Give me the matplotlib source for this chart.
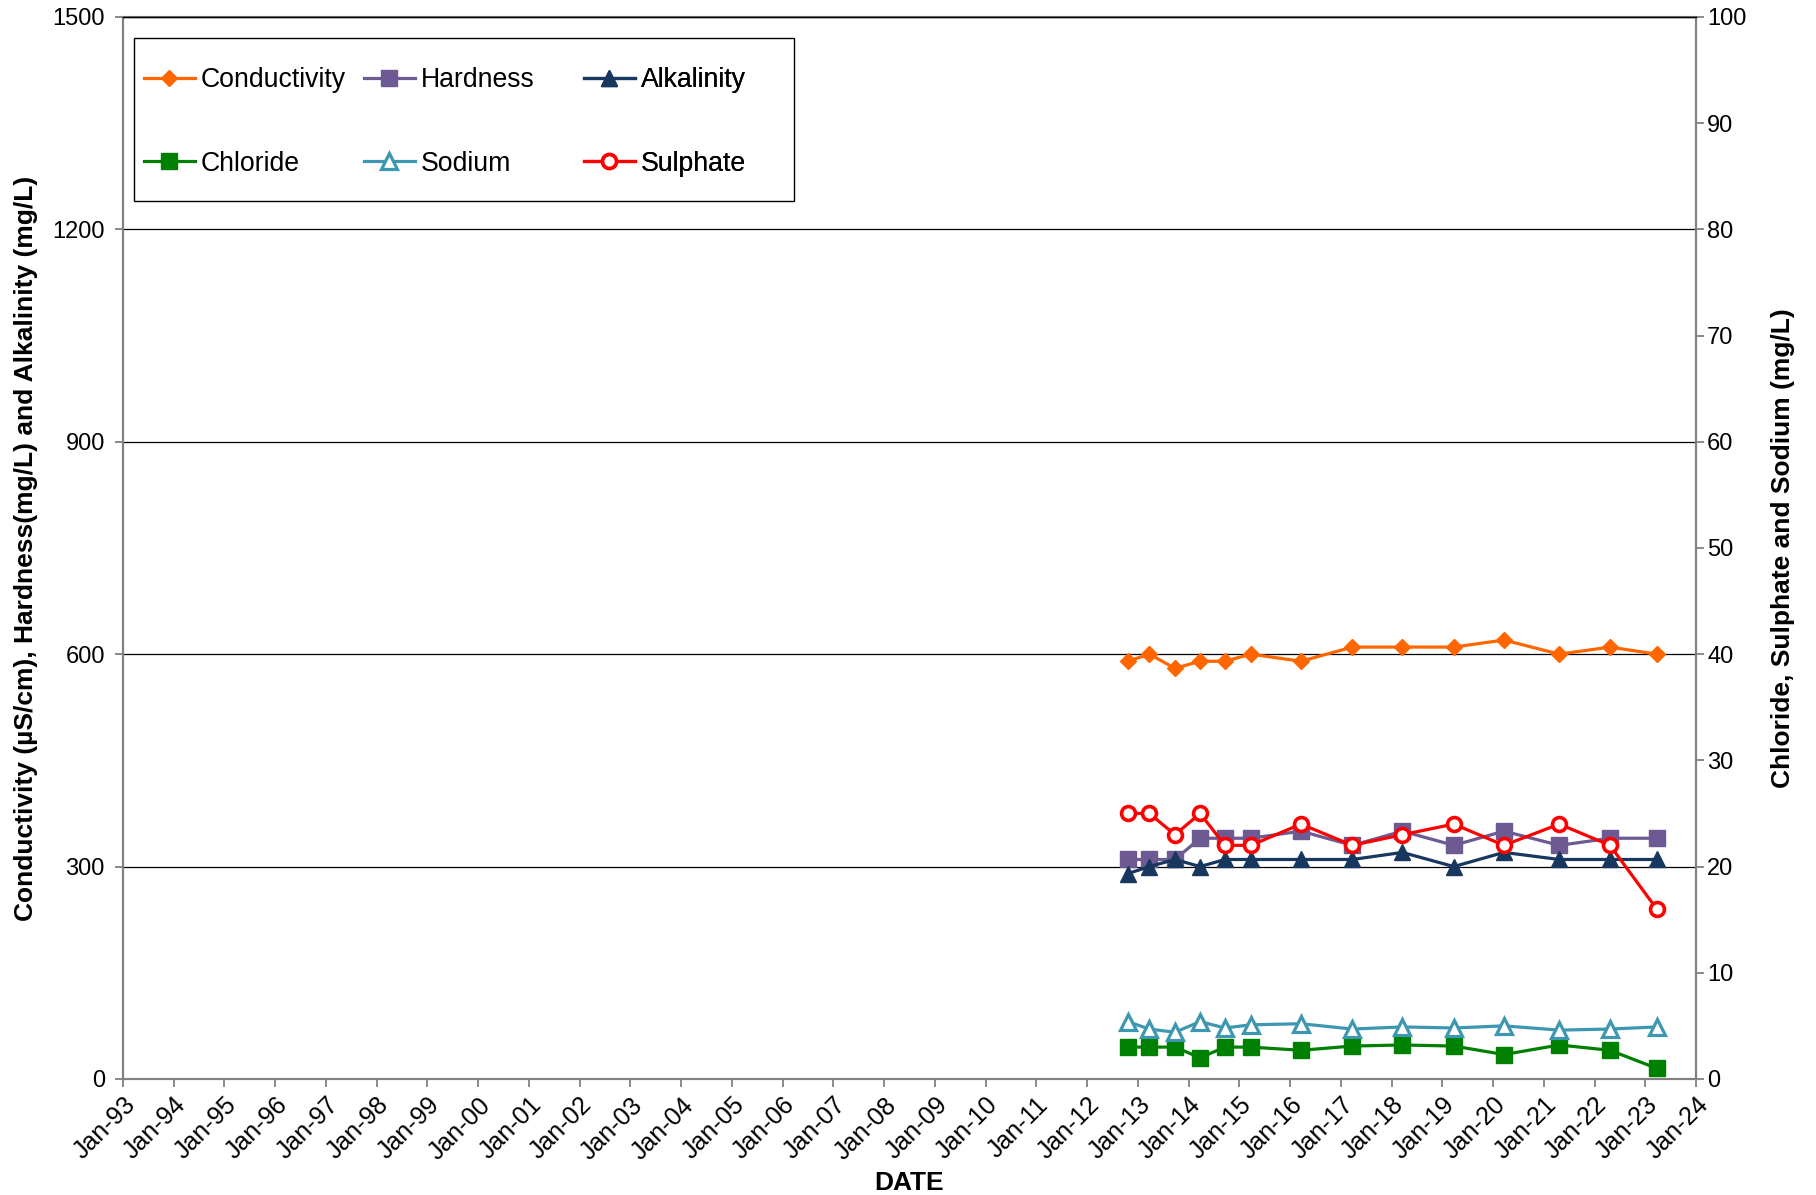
import pandas as pd
import matplotlib
matplotlib.use("Agg")
import matplotlib.pyplot as plt
import matplotlib.dates as mdates
from matplotlib.patches import Rectangle

plt.rcParams['font.family'] = ['Liberation Sans', 'DejaVu Sans']

# sampling dates
dates = ['2012-10-20', '2013-03-25', '2013-09-25', '2014-03-25', '2014-09-20', '2015-03-25',
         '2016-03-20', '2017-03-25', '2018-03-20', '2019-03-25', '2020-03-20', '2021-04-22',
         '2022-04-22', '2023-03-25']

# left axis
conductivity = [590, 600, 580, 590, 590, 600, 590, 610, 610, 610, 620, 600, 610, 600]
hardness = [310, 310, 310, 340, 340, 340, 350, 330, 350, 330, 350, 330, 340, 340]
alkalinity = [290, 300, 310, 300, 310, 310, 310, 310, 320, 300, 320, 310, 310, 310]

# right axis
chloride = [3.0, 3.0, 3.0, 2.0, 3.0, 3.0, 2.7, 3.1, 3.2, 3.1, 2.3, 3.2, 2.7, 1.0]
sodium = [5.4, 4.7, 4.4, 5.4, 4.8, 5.1, 5.2, 4.7, 4.9, 4.8, 5.0, 4.6, 4.7, 4.9]
sulphate = [25, 25, 23, 25, 22, 22, 24, 22, 23, 24, 22, 24, 22, 16]

x = pd.to_datetime(dates)

fig = plt.figure(figsize=(18.16, 11.95), dpi=100)
ax = fig.add_axes([0.0677, 0.0971, 0.8662, 0.8887])
ax2 = ax.twinx()

lw = 2.3
h_cond, = ax.plot(x, conductivity, color='#FF6600', marker='D', ms=8, lw=lw, label='Conductivity')
h_hard, = ax.plot(x, hardness, color='#6D5A93', marker='s', ms=11, lw=lw, label='Hardness')
h_alk, = ax.plot(x, alkalinity, color='#17375E', marker='^', ms=11.5, lw=lw, label='Alkalinity')

h_cl, = ax2.plot(x, chloride, color='#008000', marker='s', ms=11, lw=lw, label='Chloride')
h_na, = ax2.plot(x, sodium, color='#3E97B0', marker='^', ms=11.5, lw=lw, mfc='white',
                 mew=2.3, label='Sodium')
h_so4, = ax2.plot(x, sulphate, color='#FF0000', marker='o', ms=10, lw=lw, mfc='white',
                  mew=2.6, label='Sulphate')

ax.set_ylim(0, 1500)
ax.set_yticks(range(0, 1501, 300))
ax2.set_ylim(0, 100)
ax2.set_yticks(range(0, 101, 10))
ax.set_xlim(pd.Timestamp('1993-01-01'), pd.Timestamp('2024-01-01'))
ax.xaxis.set_major_locator(mdates.YearLocator(1))
ax.xaxis.set_major_formatter(mdates.DateFormatter('%b-%y'))

ax.yaxis.grid(True, color='black', lw=0.9)
ax.set_axisbelow(True)

for a in (ax, ax2):
    for s in a.spines.values():
        s.set_color('#808080')
        s.set_linewidth(1.5)
    a.tick_params(direction='out', length=6, width=1.3, color='#808080', labelsize=17)
ax.tick_params(axis='y', pad=7)
ax.tick_params(axis='x', labelsize=18, pad=4)
ax2.tick_params(axis='y', pad=2)
ax2.spines['top'].set_color('black')
ax2.spines['top'].set_linewidth(1.0)

for lbl in ax.get_xticklabels():
    lbl.set_rotation(45)
    lbl.set_ha('right')
    lbl.set_rotation_mode('anchor')

ax.set_ylabel('Conductivity (µS/cm), Hardness(mg/L) and Alkalinity (mg/L)', fontsize=19,
              fontweight='bold', labelpad=10)
ax2.set_ylabel('Chloride, Sulphate and Sodium (mg/L)', fontsize=19, fontweight='bold',
               labelpad=18)
ax.set_xlabel('DATE', fontsize=19, fontweight='bold', labelpad=5)

# legend box, then one small legend per column
ax2.add_patch(Rectangle((0.007, 0.8267), 0.4196, 0.1533, transform=ax2.transAxes,
                        facecolor='white', edgecolor='black', lw=1.0, zorder=4.5))
columns = [(h_cond, h_cl), (h_hard, h_na), (h_alk, h_so4)]
col_x = [0.0131, 0.1530, 0.2929]
for hs, cx in zip(columns, col_x):
    leg = ax2.legend(list(hs), [h.get_label() for h in hs], loc='center left',
                     bbox_to_anchor=(cx, 0.9012), fontsize=19.2, frameon=False,
                     labelspacing=2.15, handlelength=1.93, handletextpad=0.2,
                     borderpad=0, borderaxespad=0)
    leg.set_zorder(5)
    ax2.add_artist(leg)

fig.savefig('out.png', dpi=100)
